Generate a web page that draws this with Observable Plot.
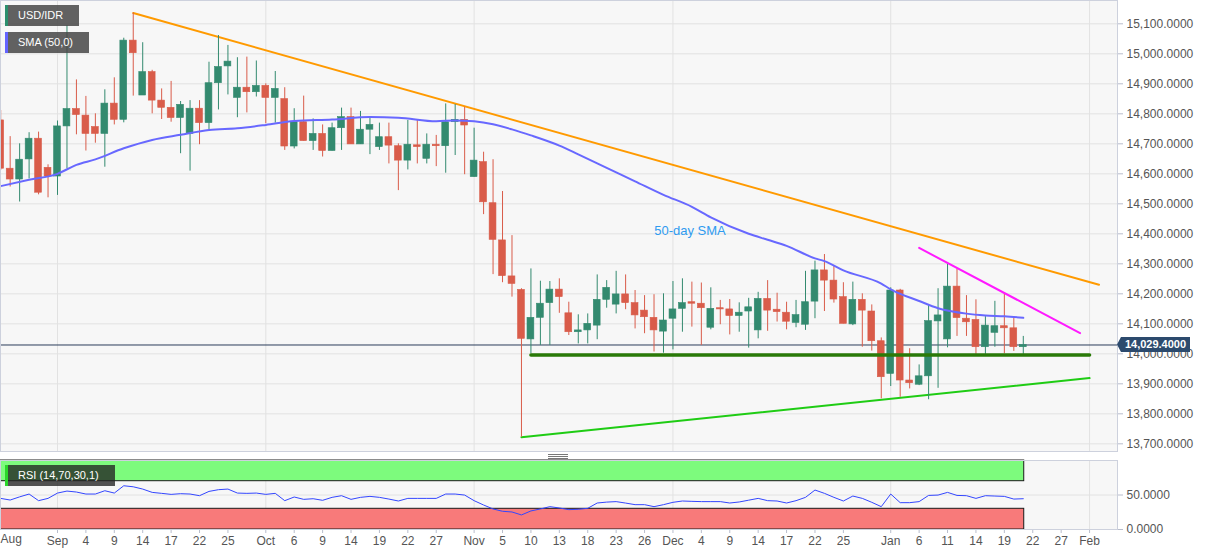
<!DOCTYPE html>
<html><head><meta charset="utf-8">
<script src="https://cdn.jsdelivr.net/npm/d3@7"></script>
<script src="https://cdn.jsdelivr.net/npm/@observablehq/plot@0.6"></script>
<style>
body{margin:0;background:#fff;font-family:"Liberation Sans",Arial,sans-serif;}
#wrap{position:relative;width:1207px;height:555px;overflow:hidden;background:#fff;}
#main,#rsi{position:absolute;left:0;}
#main{top:0;} #rsi{top:452px;}
.tag{position:absolute;left:5px;height:21px;line-height:21px;color:#fff;font-size:11px;padding-left:10px;box-sizing:border-box;border-left:3px solid;}
.hl{position:absolute;left:548px;width:20px;height:1px;background:#777;}
</style></head>
<body>
<div id="wrap">
  <div id="main"></div>
  <div id="rsi"></div>
  <div class="tag" style="top:5px;width:74px;background:rgba(70,70,70,0.85);border-color:#2b8f6d">USD/IDR</div>
  <div class="tag" style="top:32px;width:84px;background:rgba(70,70,70,0.85);border-color:#6464ff">SMA (50,0)</div>
  <div class="tag" style="top:465px;width:110px;background:rgba(35,35,35,0.78);border-color:#2bd62b">RSI (14,70,30,1)</div>
  <div class="hl" style="top:454px"></div>
  <div class="hl" style="top:456px"></div>
  <div class="hl" style="top:458px"></div>
</div>
<script>
// ---- candles (trading-day index 1 = Aug 24, 2020 ... 109 = Jan 21, 2021)
const opens  = [14778,14617,14581,14648,14717,14620,14591,14758,14816,14794,14756,14733,14834,14780,15044,14861,14939,14844,14820,14786,14733,14817,14769,14902,14958,14853,14887,14872,14893,14853,14849,14691,14772,14709,14733,14676,14752,14789,14698,14747,14689,14722,14692,14644,14695,14650,14697,14692,14772,14780,14589,14639,14502,14378,14258,14213,14048,14120,14169,14214,14135,14072,14078,14094,14180,14164,14198,14169,14144,14120,14074,14117,14150,14172,14167,14087,14152,14148,14126,14141,14078,14183,14147,14137,14103,14097,14174,14278,14244,14189,14098,14180,14141,14042,13933,14211,13911,13897,13925,14108,14048,14224,14117,14113,14022,14070,14092,14085,14022];
const highs  = [14811,14724,14700,14737,14739,14630,14776,15094,14913,14858,14800,14880,14920,15052,15136,15037,14945,14883,14908,14841,14844,14844,14972,15061,15028,14987,14989,14976,14900,14941,14887,14817,14859,14783,14763,14769,14819,14819,14808,14787,14769,14769,14700,14778,14778,14733,14728,14833,14831,14822,14752,14672,14647,14541,14394,14217,14283,14242,14241,14250,14172,14130,14133,14263,14244,14275,14263,14211,14194,14197,14200,14241,14250,14239,14236,14220,14178,14181,14170,14185,14205,14244,14202,14172,14178,14275,14309,14331,14294,14237,14239,14200,14163,14053,14220,14215,14017,13963,14161,14217,14300,14283,14194,14180,14124,14175,14200,14119,14058];
const lows   = [14611,14556,14506,14583,14530,14520,14528,14617,14730,14676,14702,14622,14763,14770,14859,14861,14800,14781,14772,14667,14609,14697,14747,14813,14863,14787,14803,14856,14767,14769,14678,14683,14709,14678,14656,14676,14678,14698,14698,14664,14678,14633,14544,14613,14633,14633,14624,14602,14661,14597,14589,14464,14264,14237,14189,13722,14000,14028,14028,14135,14061,14033,14033,14047,14152,14133,14147,14083,14067,14006,14002,14013,14072,14089,14028,14080,14097,14063,14072,14019,14050,14075,14106,14080,14087,14078,14117,14141,14169,14100,14094,14022,14009,13850,13891,13855,13883,13894,13847,13885,14020,14058,14058,13998,13998,14022,14000,14008,13998];
const closes = [14617,14581,14647,14717,14537,14591,14758,14816,14796,14733,14733,14834,14780,15044,15002,14939,14844,14820,14786,14830,14817,14769,14902,14956,14974,14887,14872,14893,14853,14883,14691,14772,14709,14733,14676,14752,14789,14698,14747,14763,14722,14694,14644,14697,14689,14697,14692,14772,14780,14761,14644,14505,14380,14259,14233,14050,14120,14167,14214,14189,14072,14078,14100,14180,14220,14198,14169,14128,14122,14078,14111,14148,14169,14167,14152,14150,14148,14126,14137,14155,14183,14144,14139,14107,14129,14172,14278,14244,14181,14100,14180,14144,14042,13922,14211,13911,13902,13925,14109,14128,14224,14119,14105,14022,14094,14092,14085,14022,14029.4];

// ---- 50-day SMA (sampled along the curve)
const smaIdx = [1,4,7,9,11,14,17,20,23,26,29,32,36,40,43,47,49,51,53,55,57,60,62,65,68,71,74,76,80,82,84,87,88,90,94,95,98,100,103,105,107,109];
const smaVal = [14559,14580,14600,14630,14648,14685,14713,14730,14746,14752,14763,14776,14781,14789,14787,14775,14778,14775,14765,14748,14728,14694,14665,14620,14575,14530,14490,14455,14400,14380,14360,14318,14309,14278,14234,14215,14176,14152,14134,14128,14125,14120];

// ---- RSI (14)
const rsiVal = [45.1,42.7,47.3,51.4,41.8,45.1,52.8,55.7,54.3,51.4,51.4,56.2,52.8,63.4,61.9,58.6,53.8,52.4,50.9,51.9,51.4,49,55.2,57.7,58.6,52.8,52.4,52.8,50.9,52.4,41.8,47.1,43.7,44.6,42.3,46.6,49,43.7,46.6,48,46.6,44.1,41.3,45.1,45.1,45.1,45.1,51.4,51.4,49.9,41.8,35.5,29.8,26.4,25.4,21.1,26.9,29.8,33.1,31.2,28.8,29.3,30.7,38.4,39.7,40.4,38.3,36,36,33.1,36,39.4,41.3,40.8,40.4,40.4,40.4,38.4,39.9,42.5,45.1,41.8,41.3,38.4,41.8,46.6,57.2,52.4,46.6,41.3,48.5,45.1,39.4,33.1,51.4,38.9,38.9,40.4,49.4,49.9,53.8,49.4,49,45.1,49,48.5,48,44.1,44.6];
const rsiBands = [{lo:70, hi:100, kind:"over"}, {lo:0, hi:30, kind:"under"}];

// ---- trend lines (index, price)
const orangeIdx = [15,117],   orangeVal = [15136,14230];
const magentaIdx = [98,115],  magentaVal = [14353,14069];
const supportIdx = [57,116],  supportVal = [13996,13996];
const risingIdx = [56,116],   risingVal = [13722,13919];

// ---- axes
const priceTicks = [13700,13800,13900,14000,14100,14200,14300,14400,14500,14600,14700,14800,14900,15000,15100];
const rsiTicks = [0,50];
const monthStarts = [7,29,51,72,95,116];
const tickIdx    = [1,7,10,13,16,19,22,25,29,32,35,38,41,44,47,51,54,57,60,63,66,69,72,75,78,81,84,87,90,95,98,101,104,107,110,113,116];
const tickLabels = ["Aug","Sep","4","9","14","17","22","25","Oct","6","9","14","19","22","27","Nov","5","10","13","18","23","26","Dec","4","9","14","17","22","25","Jan","6","11","14","19","22","27","Feb"];
const annotation = [{i:73.8, v:14411, label:"50-day SMA"}];

const GREEN = "#338a6f", RED = "#d95c4a";
const candles = opens.map((o,k)=>({i:k+1, open:o, high:highs[k], low:lows[k], close:closes[k]}));
const col = d => d.close >= d.open ? GREEN : RED;
const toPts = (idx, val) => idx.map((x,k)=>({i:x, v:val[k]}));
const lastClose = closes[closes.length-1];
const lastIdx = candles.length;
const xDomain = [0.98, 118.95];
const fmt4 = d3.format(",.4f");
const fontFam = "Liberation Sans, Arial, sans-serif";

const main = Plot.plot({
  width: 1207, height: 452, marginLeft: 0, marginRight: 90, marginTop: 0, marginBottom: 1,
  style: {fontFamily: fontFam, fontSize: "12px", color: "#555", background: "transparent", overflow: "visible"},
  x: {domain: xDomain, axis: null, label: null},
  y: {domain: [13674.4, 15177.7], axis: null, label: null},
  marks: [
    Plot.frame({fill: "#f7f7f7"}),
    Plot.ruleY(priceTicks, {stroke: "#e2e2e2"}),
    Plot.ruleX(monthStarts, {stroke: "#e2e2e2"}),
    Plot.axisY(priceTicks, {anchor: "right", label: null, tickSize: 5, tickPadding: 4, tickFormat: fmt4, stroke: "#b8bdcc", fill: "#555", fontSize: 12}),
    Plot.ruleY([lastClose], {stroke: "#2b3d5b", strokeWidth: 1}),
    Plot.line(toPts(risingIdx, risingVal), {x: "i", y: "v", stroke: "#1fcc14", strokeWidth: 2}),
    Plot.line(toPts(orangeIdx, orangeVal), {x: "i", y: "v", stroke: "#ff9a00", strokeWidth: 2}),
    Plot.ruleX(candles, {x: "i", y1: "low", y2: "high", stroke: col, strokeWidth: 1}),
    Plot.rect(candles, {x1: d=>d.i-0.36, x2: d=>d.i+0.36, y1: "open", y2: "close", fill: col, stroke: col, strokeWidth: 0.6}),
    Plot.line(toPts(supportIdx, supportVal), {x: "i", y: "v", stroke: "#2a7a08", strokeWidth: 3.5}),
    Plot.line(toPts(smaIdx, smaVal), {x: "i", y: "v", stroke: "#6868ff", strokeWidth: 2, curve: "monotone-x"}),
    Plot.line(toPts(magentaIdx, magentaVal), {x: "i", y: "v", stroke: "#ff1aff", strokeWidth: 2}),
    Plot.text(annotation, {x: "i", y: "v", text: "label", fill: "#2f9bf0", fontSize: 13, fontFamily: fontFam}),
    Plot.frame({stroke: "#cdd1dd"})
  ]
});
document.getElementById("main").appendChild(main);

// current price tag, positioned through the y scale
{
  const sy = main.scale("y").apply(lastClose);
  const x0 = 1117;
  const g = d3.select(main).append("g");
  g.append("path")
    .attr("d", `M${x0},${sy} L${x0+4},${sy-7.5} H${x0+73} V${sy+7.5} H${x0+4} Z`)
    .attr("fill", "#2c4a6d");
  g.append("text").attr("x", x0+38.5).attr("y", sy).attr("dy", "0.35em")
    .attr("text-anchor", "middle").attr("fill", "#fff")
    .attr("font-size", 11).attr("font-weight", "bold").attr("font-family", fontFam)
    .text(fmt4(lastClose));
}

const labelMap = new Map(tickIdx.map((d,k)=>[d, tickLabels[k]]));
const rsi = Plot.plot({
  width: 1207, height: 103, marginLeft: 0, marginRight: 90, marginTop: 8, marginBottom: 26,
  style: {fontFamily: fontFam, fontSize: "12px", color: "#555", background: "transparent", overflow: "visible"},
  x: {domain: xDomain, axis: null, label: null},
  y: {domain: [0, 100], axis: null, label: null},
  marks: [
    Plot.frame({fill: "#f7f7f7"}),
    Plot.ruleX(monthStarts, {stroke: "#e2e2e2"}),
    Plot.ruleY([50], {stroke: "#e2e2e2"}),
    Plot.rect(rsiBands, {x1: xDomain[0], x2: lastIdx + 0.1, y1: "lo", y2: "hi", fill: d => d.kind === "over" ? "#7dfb7d" : "#f87a7a", stroke: "#1a1a1a", strokeWidth: 1}),
    Plot.line(rsiVal.map((v,k)=>({i:k+1, v})), {x: "i", y: "v", stroke: "#3346ff", strokeWidth: 1}),
    Plot.axisY(rsiTicks, {anchor: "right", label: null, tickSize: 5, tickPadding: 4, tickFormat: fmt4, stroke: "#b8bdcc", fill: "#555", fontSize: 12}),
    Plot.axisX(tickIdx.slice(1), {anchor: "bottom", label: null, tickSize: 4, tickPadding: 3, tickFormat: d => labelMap.get(d), stroke: "#b8bdcc", fill: "#555", fontSize: 12}),
    Plot.text([{i: tickIdx[0], label: tickLabels[0]}], {x: "i", text: "label", frameAnchor: "bottom", textAnchor: "start", dx: -0.2, dy: 13, fill: "#555", fontSize: 12}),
    Plot.frame({stroke: "#cdd1dd"})
  ]
});
document.getElementById("rsi").appendChild(rsi);
</script>
</body></html>
